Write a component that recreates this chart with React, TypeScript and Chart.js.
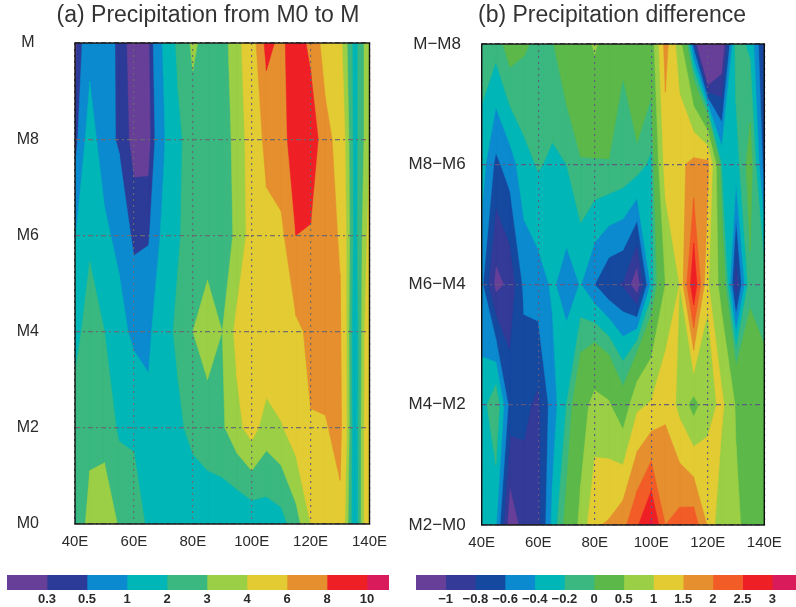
import React, { useEffect, useRef } from "react";
import { Chart, registerables } from "chart.js";

Chart.register(...registerables);

const FONT = "'Liberation Sans', Arial, sans-serif";
const TEXT = "#2a2a2a";

const lons = [40, 45, 50, 55, 60, 65, 70, 75, 80, 85, 90, 95, 100, 105, 110, 115, 120, 125, 130, 135, 140];
const lonTicks = [40, 60, 80, 100, 120, 140];

// Panel (a): rows bottom to top
const rowLabelsA = ["M0", "M2", "M4", "M6", "M8", "M"];
const aM0 = [1.85, 3.5, 3.7, 2.9, 2.6, 1.8, 1.4, 1.2, 1.2, 1.75, 1.2, 1.05, 1.2, 1.4, 1.6, 2.55, 4.0, 4.3, 5.5, 0.9, 5.8];
const aM2 = [2.4, 2.6, 2.6, 1.85, 1.8, 1.2, 1.4, 1.8, 2.3, 2.2, 2.85, 3.7, 4.45, 3.5, 3.9, 4.6, 5.9, 5.85, 6.6, 0.9, 5.8];
const aM4 = [1.7, 2.4, 2.0, 1.3, 0.8, 0.85, 1.6, 2.2, 3.0, 3.8, 3.0, 4.3, 5.0, 5.1, 5.3, 5.6, 6.4, 7.0, 6.3, 0.9, 5.5];
const aM6 = [0.95, 1.85, 1.15, 0.8, 0.42, 0.46, 1.15, 1.9, 2.5, 2.3, 2.5, 3.2, 4.5, 5.5, 5.5, 8.0, 7.8, 7.0, 5.8, 1.5, 4.5];
const aM8 = [0.32, 1.3, 0.65, 0.45, 0.22, 0.2, 0.9, 1.8, 2.5, 2.7, 2.7, 3.2, 4.7, 6.5, 7.5, 8.7, 9.5, 6.6, 5.3, 1.5, 3.9];
const aM = [0.22, 0.8, 0.7, 0.42, 0.18, 0.25, 1.05, 2.2, 3.2, 2.6, 2.6, 3.6, 4.9, 8.6, 7.5, 9.3, 7.4, 5.2, 4.4, 1.5, 3.9];
const levelsA = [0.3, 0.5, 1, 2, 3, 4, 6, 8, 10];
const levelLabelsA = ["0.3", "0.5", "1", "2", "3", "4", "6", "8", "10"];
const colorsA = ["#673f98", "#2c3b97", "#0c8acf", "#00b6b6", "#3ab87f", "#9bcf45", "#e3cb33", "#e58f2e", "#ee2026", "#d91b5c"];

// Panel (b): rows bottom to top
const rowLabelsB = ["M2−M0", "M4−M2", "M6−M4", "M8−M6", "M−M8"];
const bR1 = [-0.3, -0.37, -1.15, -0.92, -0.88, -0.35, 0.1, 0.6, 1.45, 1.55, 1.85, 2.44, 3.08, 2.0, 2.2, 2.3, 1.45, 0.55, 0.6, 0.3, 0.3];
const bR2 = [-0.3, -0.03, -0.68, -0.75, -0.85, -0.5, -0.2, 0.3, 0.65, 0.55, 0.15, 0.9, 1.05, 1.4, 0.85, 0.3, 0.84, 1.1, 0.45, 0.2, 0.1];
const bR3 = [-0.55, -1.07, -0.95, -0.55, -0.49, -0.37, -0.49, -0.39, -0.6, -0.77, -0.82, -1.16, -0.35, 0.5, 1.0, 2.95, 1.05, 0.3, -0.95, -0.05, -0.1];
const bR4 = [-0.3, -0.65, -0.5, -0.27, -0.18, -0.24, -0.2, -0.02, -0.03, -0.014, -0.05, -0.1, -0.25, 1.2, 1.4, 1.63, 1.63, -0.25, -0.3, 0.13, -0.7];
const bR5 = [-0.1, -0.12, 0.12, 0.03, -0.05, -0.02, 0.2, 0.3, 0.55, 0.3, 0.02, 0.45, 0.2, 1.7, 0.72, -0.7, -2.4, -1.25, -0.1, -0.25, -0.85];
const levelsB = [-1, -0.8, -0.6, -0.4, -0.2, 0, 0.5, 1, 1.5, 2, 2.5, 3];
const levelLabelsB = ["−1", "−0.8", "−0.6", "−0.4", "−0.2", "0", "0.5", "1", "1.5", "2", "2.5", "3"];
const colorsB = ["#673f98", "#333a97", "#15499f", "#0c8acf", "#00b6b6", "#3ab87f", "#5cb949", "#9bcf45", "#e3cb33", "#e58f2e", "#f25c27", "#ee2026", "#d91b5c"];

const gridA = [aM0, aM2, aM4, aM6, aM8, aM];
const gridB = [bR1, bR2, bR3, bR4, bR5];

type Pt = { x: number; y: number; v: number };

function clipCell(corners: Pt[], t: number): Pt[] {
  const out: Pt[] = [];
  for (let i = 0; i < corners.length; i++) {
    const a = corners[i];
    const b = corners[(i + 1) % corners.length];
    if (a.v >= t) out.push(a);
    if (a.v >= t !== b.v >= t) {
      const f = (t - a.v) / (b.v - a.v);
      out.push({ x: a.x + (b.x - a.x) * f, y: a.y + (b.y - a.y) * f, v: t });
    }
  }
  return out;
}

const contourPlugin = {
  id: "contour",
  afterLayout(chart: any) {
    // the row labels sit left of the padded box: widen the label clip to the canvas edge
    chart.scales.y.left = 0;
  },
  beforeDatasetsDraw(chart: any, _args: any, opts: any) {
    const { ctx, chartArea, scales } = chart;
    const rows = chart.data.datasets.map((d: any) =>
      d.data.map((p: any) => ({ x: scales.x.getPixelForValue(p.x), y: scales.y.getPixelForValue(p.y), v: p.v }))
    );
    const levels: number[] = opts.levels;
    const colors: string[] = opts.colors;
    ctx.save();
    ctx.beginPath();
    ctx.rect(chartArea.left, chartArea.top, chartArea.width, chartArea.height);
    ctx.clip();
    ctx.fillStyle = colors[0];
    ctx.fillRect(chartArea.left, chartArea.top, chartArea.width, chartArea.height);
    ctx.lineJoin = "round";
    levels.forEach((t, li) => {
      ctx.beginPath();
      for (let r = 0; r + 1 < rows.length; r++) {
        for (let c = 0; c + 1 < rows[r].length; c++) {
          const poly = clipCell([rows[r][c], rows[r][c + 1], rows[r + 1][c + 1], rows[r + 1][c]], t);
          if (poly.length < 3) continue;
          ctx.moveTo(poly[0].x, poly[0].y);
          for (let i = 1; i < poly.length; i++) ctx.lineTo(poly[i].x, poly[i].y);
          ctx.closePath();
        }
      }
      ctx.fillStyle = colors[li + 1];
      ctx.strokeStyle = colors[li + 1];
      ctx.lineWidth = 0.5;
      ctx.fill();
      ctx.stroke();
    });
    ctx.restore();
  },
  afterDraw(chart: any) {
    const { ctx, chartArea: a } = chart;
    ctx.save();
    ctx.strokeStyle = "#111";
    ctx.lineWidth = 1.4;
    ctx.strokeRect(a.left, a.top, a.width, a.height);
    ctx.restore();
  },
};

const zeroPad = (s: any) => {
  s.paddingLeft = s.paddingRight = s.paddingTop = s.paddingBottom = 0;
};

type PanelProps = {
  title: string;
  grid: number[][];
  rowLabels: string[];
  levels: number[];
  colors: string[];
  left: number;
  width: number;
  height: number;
  leftPad: number;
  axisWidth: number;
  rightPad: number;
  plotTop: number;
  yFont: number;
  yPad: number;
  gridColor: string;
};

function Panel(p: PanelProps) {
  const ref = useRef<HTMLCanvasElement>(null);
  useEffect(() => {
    const chart = new Chart(ref.current as HTMLCanvasElement, {
      type: "scatter",
      data: {
        datasets: p.grid.map((row, r) => ({
          label: p.rowLabels[r],
          data: row.map((v, i) => ({ x: lons[i], y: r, v })),
          pointRadius: 0,
          showLine: false,
        })),
      },
      options: {
        animation: false,
        responsive: false,
        layout: { padding: { left: p.leftPad, right: p.rightPad, top: 0, bottom: 0 } },
        plugins: {
          legend: { display: false },
          tooltip: { enabled: false },
          title: {
            display: true,
            text: p.title,
            color: "#333",
            font: { family: FONT, size: 23, weight: "normal", lineHeight: 1.2 },
            padding: { top: 1.5, bottom: p.plotTop - 1.5 - 27.6 },
          },
          contour: { levels: p.levels, colors: p.colors },
        },
        scales: {
          x: {
            type: "linear",
            min: 40,
            max: 140,
            afterBuildTicks: (s: any) => {
              s.ticks = lonTicks.map((value) => ({ value }));
            },
            afterFit: (s: any) => {
              s.height = 30;
              zeroPad(s);
            },
            grid: { z: 1, color: p.gridColor, lineWidth: 1.2, drawTicks: false },
            border: { display: false, dash: [2, 4] },
            ticks: {
              color: TEXT,
              maxRotation: 0,
              autoSkip: false,
              padding: 9,
              font: { family: FONT, size: 15 },
              callback: (v: any) => `${v}E`,
            },
          },
          y: {
            type: "linear",
            min: 0,
            max: p.rowLabels.length - 1,
            afterBuildTicks: (s: any) => {
              s.ticks = p.rowLabels.map((_, value) => ({ value }));
            },
            afterFit: (s: any) => {
              s.width = p.axisWidth;
              zeroPad(s);
            },
            grid: { z: 1, color: p.gridColor, lineWidth: 1.2, drawTicks: false },
            border: { display: false, dash: [5, 3, 2, 3] },
            ticks: {
              color: TEXT,
              autoSkip: false,
              padding: p.yPad,
              crossAlign: "center",
              font: { family: FONT, size: p.yFont },
              callback: (v: any) => p.rowLabels[v],
            },
          },
        },
      } as any,
      plugins: [contourPlugin as any],
    });
    return () => chart.destroy();
  }, []);
  return (
    <canvas
      ref={ref}
      width={p.width}
      height={p.height}
      style={{ position: "absolute", left: p.left, top: 0, width: p.width, height: p.height }}
    />
  );
}

type BarProps = { colors: string[]; labels: string[]; left: number; width: number; lastBand: number };

function ColorBar(p: BarProps) {
  const ref = useRef<HTMLCanvasElement>(null);
  useEffect(() => {
    const n = p.colors.length;
    const chart = new Chart(ref.current as HTMLCanvasElement, {
      type: "bar",
      data: {
        labels: ["scale"],
        datasets: p.colors.map((c, i) => ({
          data: [i === n - 1 ? p.lastBand : 1],
          backgroundColor: c,
          borderWidth: 0,
          barPercentage: 1,
          categoryPercentage: 1,
        })),
      },
      options: {
        animation: false,
        responsive: false,
        indexAxis: "y",
        layout: { padding: 0 },
        plugins: { legend: { display: false }, tooltip: { enabled: false } },
        scales: {
          y: { stacked: true, display: false },
          x: {
            stacked: true,
            type: "linear",
            min: 0,
            max: n - 1 + p.lastBand,
            afterBuildTicks: (s: any) => {
              s.ticks = p.labels.map((_, i) => ({ value: i + 1 }));
            },
            afterFit: (s: any) => {
              s.height = 17;
              zeroPad(s);
            },
            grid: { display: false, drawTicks: false },
            border: { display: false },
            ticks: {
              color: TEXT,
              autoSkip: false,
              maxRotation: 0,
              padding: 2,
              font: { family: FONT, size: 13, weight: "bold" },
              callback: (v: any) => p.labels[v - 1],
            },
          },
        },
      } as any,
    });
    return () => chart.destroy();
  }, []);
  return (
    <canvas
      ref={ref}
      width={p.width}
      height={32}
      style={{ position: "absolute", left: p.left, top: 575, width: p.width, height: 32 }}
    />
  );
}

export default function App() {
  return (
    <div style={{ position: "absolute", left: 0, top: 0, width: 796, height: 607, overflow: "hidden", background: "#fff" }}>
      <Panel
        title="(a) Precipitation from M0 to M"
        grid={gridA}
        rowLabels={rowLabelsA}
        levels={levelsA}
        colors={colorsA}
        left={0}
        width={400}
        height={554}
        leftPad={46.5}
        axisWidth={28.5}
        rightPad={30.5}
        plotTop={43}
        yFont={16}
        yPad={36}
        gridColor="rgba(105,105,115,0.95)"
      />
      <Panel
        title="(b) Precipitation difference"
        grid={gridB}
        rowLabels={rowLabelsB}
        levels={levelsB}
        colors={colorsB}
        left={398}
        width={398}
        height={555}
        leftPad={61.7}
        axisWidth={22}
        rightPad={31.7}
        plotTop={44}
        yFont={17}
        yPad={16}
        gridColor="rgba(95,90,130,0.95)"
      />
      <ColorBar colors={colorsA} labels={levelLabelsA} left={7} width={382} lastBand={0.55} />
      <ColorBar colors={colorsB} labels={levelLabelsB} left={416} width={380} lastBand={0.8} />
    </div>
  );
}
